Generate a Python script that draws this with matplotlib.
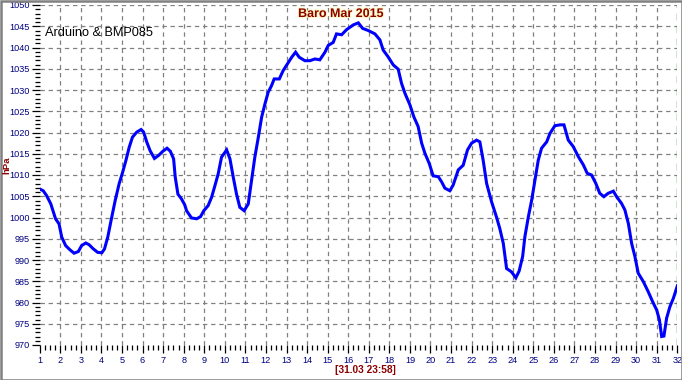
import matplotlib
matplotlib.use("Agg")
import matplotlib.pyplot as plt
from matplotlib.ticker import MultipleLocator
from matplotlib.patches import Rectangle
import matplotlib.patheffects as pe

title = "Baro Mar 2015"
subtitle = "Arduino & BMP085"
ylabel = "hPa"
xlabel = "[31.03 23:58]"

days = [1.0, 1.17, 1.33, 1.54, 1.77, 1.94, 2.07, 2.26, 2.47, 2.67, 2.88, 3.04, 3.24, 3.4, 3.61,
        3.82, 4.02, 4.15, 4.31, 4.47, 4.67, 4.86, 5.03, 5.19, 5.35, 5.51, 5.72, 5.93, 6.05,
        6.21, 6.37, 6.58, 6.78, 6.99, 7.19, 7.35, 7.51, 7.59, 7.72, 7.89, 8.05, 8.14, 8.38,
        8.63, 8.82, 8.98, 9.19, 9.36, 9.52, 9.68, 9.84, 10.09, 10.25, 10.41, 10.57, 10.73,
        10.94, 11.14, 11.3, 11.46, 11.63, 11.79, 11.95, 12.11, 12.27, 12.4, 12.65, 12.84,
        13.04, 13.25, 13.44, 13.62, 13.89, 14.14, 14.38, 14.62, 14.87, 15.03, 15.27, 15.43,
        15.68, 15.92, 16.24, 16.49, 16.7, 16.97, 17.3, 17.54, 17.7, 17.94, 18.19, 18.43,
        18.59, 18.76, 19.0, 19.19, 19.4, 19.57, 19.73, 19.94, 20.13, 20.38, 20.54, 20.7,
        20.94, 21.1, 21.35, 21.59, 21.8, 22.0, 22.24, 22.4, 22.56, 22.73, 22.97, 23.21,
        23.37, 23.54, 23.7, 23.94, 24.15, 24.31, 24.48, 24.59, 24.76, 24.92, 25.08, 25.24,
        25.4, 25.65, 25.81, 26.05, 26.3, 26.49, 26.7, 26.94, 27.19, 27.43, 27.62, 27.83,
        28.04, 28.23, 28.43, 28.64, 28.89, 29.05, 29.29, 29.45, 29.62, 29.78, 29.94, 30.1,
        30.35, 30.59, 30.8, 31.0, 31.13, 31.24, 31.35, 31.48, 31.64, 31.81, 32.0]
pressure = [1006.7, 1006.3, 1005.2, 1003.2, 999.7, 998.5, 995.4, 993.4, 992.4, 991.6, 992.0,
            993.4, 994.0, 993.6, 992.6, 991.8, 991.7, 992.6, 995.4, 999.3, 1004.0, 1007.9,
            1010.6, 1013.4, 1016.5, 1018.9, 1020.1, 1020.7, 1020.1, 1017.7, 1015.7, 1013.9,
            1014.6, 1015.6, 1016.3, 1015.6, 1013.8, 1009.5, 1005.5, 1004.4, 1003.0, 1001.6,
            999.9, 999.7, 1000.2, 1001.6, 1002.8, 1004.8, 1007.5, 1010.3, 1014.2, 1015.9,
            1013.8, 1009.5, 1005.5, 1002.4, 1001.6, 1003.2, 1008.7, 1014.2, 1018.9, 1023.6,
            1026.7, 1029.5, 1031.0, 1032.6, 1032.6, 1034.6, 1036.1, 1037.7, 1038.9, 1037.7,
            1036.9, 1036.9, 1037.3, 1037.1, 1038.9, 1040.5, 1041.2, 1043.2, 1043.0, 1044.2,
            1045.3, 1045.8, 1044.5, 1044.0, 1043.2, 1041.8, 1039.4, 1037.8, 1035.9, 1034.9,
            1031.6, 1029.2, 1026.5, 1023.7, 1021.4, 1017.5, 1015.1, 1012.7, 1009.8, 1009.6,
            1008.4, 1006.9, 1006.3, 1007.6, 1011.2, 1012.3, 1015.9, 1017.5, 1018.2, 1017.8,
            1013.5, 1008.0, 1003.7, 1000.1, 997.4, 993.9, 988.0, 987.2, 985.8, 987.4, 990.8,
            995.5, 1000.2, 1004.1, 1008.8, 1013.5, 1016.3, 1017.8, 1019.8, 1021.6, 1021.8,
            1021.8, 1018.2, 1016.7, 1014.3, 1012.4, 1010.4, 1010.0, 1008.0, 1005.7, 1004.9,
            1005.7, 1006.2, 1004.9, 1003.3, 1001.8, 998.6, 993.9, 990.8, 986.9, 984.9, 982.5,
            980.2, 978.2, 975.9, 972.0, 972.1, 976.3, 979.0, 981.0, 983.9]

x_ticks = list(range(1, 33))
y_ticks = list(range(970, 1051, 5))

fig = plt.figure(figsize=(6.82, 3.80), dpi=100)
fig.patch.set_facecolor("white")
ax = fig.add_axes([39.7 / 682, 1 - 345 / 380, (677.3 - 39.7) / 682, 340 / 380])
ax.set_xlim(1, 32)
ax.set_ylim(970, 1050)

for s in ax.spines.values():
    s.set_visible(False)

ax.set_xticks(x_ticks)
ax.set_yticks(y_ticks)
ax.xaxis.set_minor_locator(MultipleLocator(0.25))
ax.yaxis.set_minor_locator(MultipleLocator(1))

tick_font = ["Liberation Sans Narrow", "Liberation Sans"]
ax.tick_params(axis="both", which="major", colors="black", labelcolor="#000080",
               width=0.9, labelsize=6.6)
ax.tick_params(axis="x", which="major", length=6, pad=2)
ax.tick_params(axis="y", which="major", length=6, pad=1)
ax.tick_params(axis="both", which="minor", width=0.9, length=3.5, color="black")
for lab in ax.get_xticklabels() + ax.get_yticklabels():
    lab.set_family(tick_font)

for xv in x_ticks[1:-1]:
    ax.axvline(xv, color="#808080", lw=0.9, ls=(0, (3.5, 3)), zorder=1)
for yv in y_ticks[1:]:
    ax.axhline(yv, color="#808080", lw=0.9, ls=(0, (3.5, 3)), zorder=1)
ax.axvline(32, color="#008000", lw=1.0, ls=(0, (5, 4)), zorder=1)

ax.plot(days, pressure, color="#0000FF", lw=2.2, zorder=3, solid_joinstyle="miter")

fig.text(341 / 682, 1 - 14 / 380, title, ha="center", va="center", fontsize=9,
         fontweight="bold", color="#8B0000", family="Liberation Sans",
         path_effects=[pe.withStroke(linewidth=1.5, foreground="#FFF8C0")])
fig.text(45 / 682, 1 - 33 / 380, subtitle, ha="left", va="center", fontsize=9.2,
         color="black", family="Liberation Sans")
fig.text(365 / 682, 1 - 370 / 380, xlabel, ha="center", va="center", fontsize=7.3,
         fontweight="bold", color="#8B0000", family="Liberation Sans")
fig.text(7 / 682, 1 - 165 / 380, ylabel, ha="center", va="center", fontsize=6.8,
         fontweight="bold", color="#8B0000", family="Liberation Sans", rotation=90)

fig.patches.append(Rectangle((0.5 / 682, 0.5 / 380), 681 / 682, 379 / 380,
                             transform=fig.transFigure, fill=False,
                             edgecolor="#808080", lw=1.8))

fig.savefig("out.png", dpi=100)
